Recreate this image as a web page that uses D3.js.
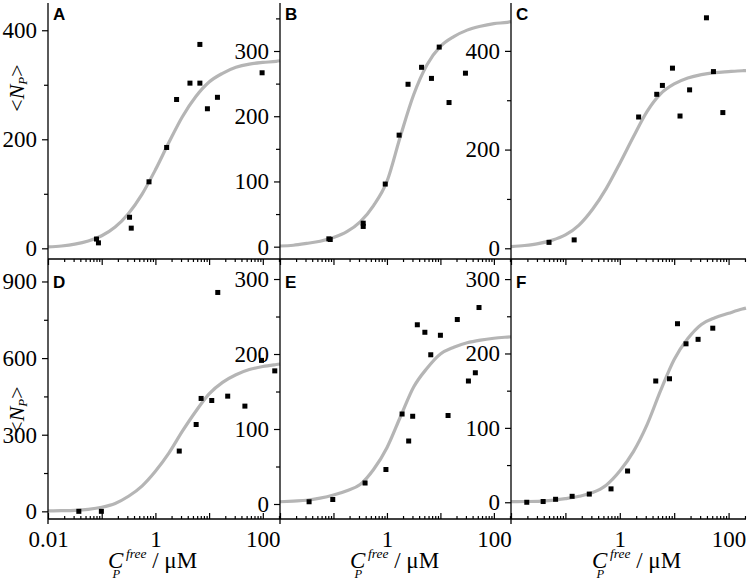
<!DOCTYPE html>
<html>
<head>
<meta charset="utf-8">
<script src="https://cdnjs.cloudflare.com/ajax/libs/d3/7.8.5/d3.min.js"></script>
<style>
  body { margin: 0; background: #fff; }
</style>
</head>
<body>
<div id="chart"></div>
<script>
// ---- values ----
var panelNames = ["A", "B", "C", "D", "E", "F"];

// fitted curves, read at quarter-decade steps along x
var fitConc = [0.01, 0.0178, 0.0316, 0.0562, 0.1, 0.178, 0.316, 0.562, 1, 1.78, 3.16, 5.62, 10, 17.8, 31.6, 56.2, 100, 178, 209];
var fitA = [2.5, 4.3, 7.6, 13.4, 23, 39, 64, 99, 144, 194, 241, 278, 305, 321, 332, 338, 341, 343, 344];
var fitB = [1, 2.2, 5, 8.4, 14, 23, 38, 63, 100, 169, 233, 279, 307, 322, 332, 338, 342, 344, 345];
var fitC = [3.4, 5.7, 9.5, 16, 27, 47, 79, 121, 172, 226, 277, 313, 333, 345, 352, 356, 358, 359.7, 360];
var fitD = [1.5, 2.5, 4, 8, 16, 31, 59, 99, 157, 228, 313, 391, 460, 505, 535, 555, 567, 575, 577];
var fitE = [3, 3.9, 5, 7.8, 12, 17.8, 26, 46, 75, 116, 156, 181, 200, 209, 215, 218.6, 221, 222.6, 223];
var fitF = [0.8, 1, 1.3, 2.5, 4.9, 8, 13, 23, 42, 68, 104, 150, 192, 220, 239, 248, 254, 259.7, 261];

// measured points: free concentration (uM) and <N_P>
var concA = [0.080, 0.087, 0.33, 0.355, 0.76, 1.62, 2.48, 4.4, 6.73, 6.73, 9.3, 14.3, 97];
var countA = [17, 10, 57, 37, 122, 185, 273, 303, 374, 303, 256, 277, 322];
var concB = [0.082, 0.087, 0.36, 0.36, 0.93, 1.69, 2.48, 4.44, 6.8, 9.5, 14.5, 29.4];
var countB = [12, 11, 36, 31, 96, 171, 249, 275, 258, 306, 221, 266];
var concC = [0.050, 0.145, 2.22, 4.78, 6.07, 9.3, 12.8, 19.2, 39.2, 52.7, 78.4];
var countC = [12, 17, 266, 312, 330, 365, 268, 321, 467, 358, 275];
var concD = [0.0375, 0.0986, 2.78, 5.74, 7.1, 11.2, 14.5, 22.2, 46.4, 94.6, 167];
var countD = [0, 0, 236, 340, 442, 434, 857, 451, 412, 591, 550];
var concE = [0.035, 0.097, 0.39, 0.957, 1.92, 2.55, 3.03, 3.7, 5.12, 6.6, 10, 13.9, 20.7, 33.4, 45, 52.7];
var countE = [3, 6, 28, 46, 120, 84, 117, 239, 229, 199, 225, 118, 246, 164, 175, 262];
var concF = [0.0195, 0.039, 0.066, 0.133, 0.275, 0.69, 1.39, 4.58, 8.2, 11.5, 16.5, 27.5, 51.2];
var countF = [0, 1, 4, 8, 11, 18, 42, 163, 166, 240, 213, 219, 234];

// tick labels
var yMajorA = [0, 200, 400], yMinorA = [100, 300];
var yMajorB = [0, 100, 200, 300], yMinorB = [50, 150, 250, 350];
var yMajorC = [0, 200, 400], yMinorC = [100, 300];
var yMajorD = [0, 300, 600, 900], yMinorD = [150, 450, 750];
var yMajorE = [0, 100, 200, 300], yMinorE = [50, 150, 250];
var yMajorF = [0, 100, 200, 300], yMinorF = [50, 150, 250];
var xMajor = [0.01, 0.1, 1, 10, 100];
var xLabelsFirst = [0.01, 1, 100];
var xLabelsOther = [1, 100];

// ---- layout ----
var W = 747, H = 584;
var cols = [[48, 280], [280, 511], [511, 746]];
var rows = [[3, 259], [259, 519]];
var xDomain = [0.01, 209];
var yDomains = [[-19.6, 450], [-18.9, 373.6], [-21.7, 497], [-30, 988], [-20, 326.7], [-22.5, 327]];
var serif = "'Liberation Serif', 'Times New Roman', Times, serif";
var sans = "'Liberation Sans', Arial, Helvetica, sans-serif";
var curveColor = "#b5b5b5";

var fits = [fitA, fitB, fitC, fitD, fitE, fitF];
var concs = [concA, concB, concC, concD, concE, concF];
var counts = [countA, countB, countC, countD, countE, countF];
var yMajors = [yMajorA, yMajorB, yMajorC, yMajorD, yMajorE, yMajorF];
var yMinors = [yMinorA, yMinorB, yMinorC, yMinorD, yMinorE, yMinorF];

// minor decade ticks 2..9 x 10^k
var xMinor = [];
[-2, -1, 0, 1, 2].forEach(function(k) {
  for (var m = 2; m <= 9; m++) {
    var v = m * Math.pow(10, k);
    if (v <= xDomain[1]) xMinor.push(v);
  }
});

var svg = d3.select("#chart")
  .append("svg")
  .attr("width", W)
  .attr("height", H);

svg.append("rect").attr("width", W).attr("height", H).attr("fill", "#fff");

function styleAxis(g) {
  g.select(".domain").remove();
  g.attr("font-family", serif);
  g.selectAll(".tick line").attr("stroke", "#000").attr("stroke-width", 1.2);
  g.selectAll("text")
    .style("font-family", serif)
    .style("font-size", "23px")
    .attr("fill", "#000");
}

panelNames.forEach(function(name, i) {
  var col = i % 3, row = Math.floor(i / 3);
  var x = d3.scaleLog().domain(xDomain).range(cols[col]);
  var y = d3.scaleLinear().domain(yDomains[i]).range([rows[row][1], rows[row][0]]);
  var g = svg.append("g");

  // fitted curve
  var line = d3.line()
    .x(function(d) { return x(d[0]); })
    .y(function(d) { return y(d[1]); })
    .curve(d3.curveMonotoneX);
  g.append("path")
    .datum(fitConc.map(function(c, j) { return [c, fits[i][j]]; }))
    .attr("d", line)
    .attr("fill", "none")
    .attr("stroke", curveColor)
    .attr("stroke-width", 3.2);

  // data points
  g.selectAll("rect.pt")
    .data(concs[i].map(function(c, j) { return [c, counts[i][j]]; }))
    .enter()
    .append("rect")
      .attr("class", "pt")
      .attr("x", function(d) { return x(d[0]) - 2.5; })
      .attr("y", function(d) { return y(d[1]) - 2.5; })
      .attr("width", 5)
      .attr("height", 5)
      .attr("fill", "#000");

  // y axis: minor and major ticks
  g.append("g")
    .attr("transform", "translate(" + cols[col][0] + ",0)")
    .call(d3.axisLeft(y).tickValues(yMinors[i]).tickSize(4).tickFormat(""))
    .call(styleAxis);
  g.append("g")
    .attr("transform", "translate(" + cols[col][0] + ",0)")
    .call(d3.axisLeft(y).tickValues(yMajors[i]).tickSize(6).tickPadding(5))
    .call(styleAxis);

  // y axis line
  g.append("line")
    .attr("x1", cols[col][0]).attr("x2", cols[col][0])
    .attr("y1", rows[row][0]).attr("y2", rows[row][1] + (row === 1 ? 5 : 0))
    .attr("stroke", "#000").attr("stroke-width", 1.3);

  // panel letter
  g.append("text")
    .attr("x", cols[col][0] + 5)
    .attr("y", row === 0 ? 20 : 288)
    .style("font-family", sans)
    .style("font-weight", "bold")
    .style("font-size", "17px")
    .text(name);

  if (row === 1) {
    // bottom x axis, ticks pointing up
    g.append("g")
      .attr("transform", "translate(0," + rows[1][1] + ")")
      .call(d3.axisBottom(x).tickValues(xMinor).tickSizeInner(-3).tickSizeOuter(0).tickFormat(""))
      .call(styleAxis);
    var labels = col === 0 ? xLabelsFirst : xLabelsOther;
    g.append("g")
      .attr("transform", "translate(0," + rows[1][1] + ")")
      .call(d3.axisBottom(x).tickValues(xMajor).tickSizeInner(-6).tickSizeOuter(0).tickPadding(12)
        .tickFormat(function(d) { return labels.indexOf(d) >= 0 ? String(d) : ""; }))
      .call(styleAxis);

    // top frame of lower row, ticks pointing down
    g.append("g")
      .attr("transform", "translate(0," + rows[1][0] + ")")
      .call(d3.axisTop(x).tickValues(xMinor).tickSizeInner(-3).tickSizeOuter(0).tickFormat(""))
      .call(styleAxis);
    g.append("g")
      .attr("transform", "translate(0," + rows[1][0] + ")")
      .call(d3.axisTop(x).tickValues(xMajor).tickSizeInner(-6).tickSizeOuter(0).tickFormat(""))
      .call(styleAxis);
  }
});

// horizontal frame lines
[rows[1][0], rows[1][1]].forEach(function(yy) {
  svg.append("line")
    .attr("x1", cols[0][0]).attr("x2", cols[2][1])
    .attr("y1", yy).attr("y2", yy)
    .attr("stroke", "#000").attr("stroke-width", 1.3);
});

// x axis titles: C_P^free / uM (one text, sub/superscript stacked)
var titleX = [108, 350, 592];
titleX.forEach(function(x0) {
  var t = svg.append("text").attr("x", x0).attr("y", 568)
    .style("font-family", serif).style("font-size", "23px");
  t.append("tspan").style("font-style", "italic").text("C");
  t.append("tspan").style("font-style", "italic").style("font-size", "13.5px").attr("dx", 2.7).attr("dy", -10).text("free");
  t.append("tspan").style("font-style", "italic").style("font-size", "12.5px").attr("dx", -34).attr("dy", 20).text("P");
  t.append("tspan").attr("dx", 32).attr("dy", -10).text("/ \u03bcM");
});

// y axis titles: <N_P>
[88, 410].forEach(function(cy) {
  var t = svg.append("text")
    .attr("transform", "translate(24," + cy + ") rotate(-90)")
    .attr("text-anchor", "middle")
    .style("font-family", serif)
    .style("font-size", "22px");
  t.append("tspan").text("<");
  t.append("tspan").style("font-style", "italic").text("N");
  t.append("tspan").style("font-style", "italic").style("font-size", "13px").attr("dy", 3).text("P");
  t.append("tspan").attr("dy", -3).text(">");
});
</script>
</body>
</html>
